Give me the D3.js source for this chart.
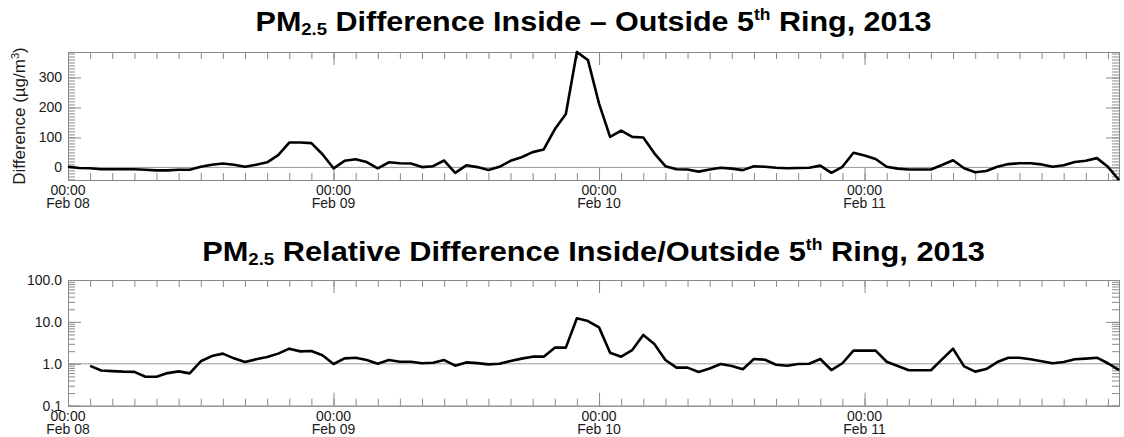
<!DOCTYPE html>
<html>
<head>
<meta charset="utf-8">
<script src="https://cdn.jsdelivr.net/npm/d3@7"></script>
<style>
  body { margin: 0; background: #fff; }
  text { font-family: "Liberation Sans", Arial, Helvetica, sans-serif; }
</style>
</head>
<body>
<svg id="chart" width="1124" height="437"></svg>
<script>
"use strict";

// hourly PM2.5 difference inside - outside (ug/m3), starting Feb 08 00:00
var diffStart = "2013-02-08T00:00:00Z";
var diff = [2, -2, -3, -6, -6, -6, -6, -8, -10, -10, -8, -8,
            2, 9, 13, 9, 2, 9, 17, 41, 83, 83, 81, 44,
            -3, 22, 27, 18, -3, 17, 14, 13, 1, 4, 23, -18,
            7, 1, -9, 2, 22, 34, 51, 60, 127, 178, 385, 358,
            213, 102, 123, 102, 100, 47, 4, -6, -7, -14, -7, -1,
            -4, -9, 4, 2, -1, -3, -2, -1, 6, -18, 2, 49,
            40, 28, 2, -4, -7, -7, -7, 8, 24, -3, -16, -12,
            2, 11, 14, 14, 10, 2, 7, 18, 22, 31, 2, -42];

// hourly relative difference inside / outside, starting Feb 08 02:00
var ratioStart = "2013-02-08T02:00:00Z";
var ratio = [0.89, 0.69, 0.67, 0.65, 0.64, 0.49, 0.49, 0.60, 0.66, 0.59,
             1.15, 1.53, 1.75, 1.35, 1.10, 1.28, 1.45, 1.75, 2.3, 1.98, 2.02, 1.6,
             0.99, 1.35, 1.40, 1.23, 1.0, 1.23, 1.12, 1.12, 1.03, 1.06, 1.23, 0.9,
             1.08, 1.04, 0.97, 1.0, 1.17, 1.33, 1.48, 1.48, 2.43, 2.43, 12.2, 10.5,
             7.4, 1.84, 1.48, 2.13, 4.87, 2.97, 1.23, 0.81, 0.81, 0.64, 0.77, 0.99,
             0.89, 0.74, 1.30, 1.25, 0.95, 0.9, 0.99, 1.0, 1.30, 0.71, 1.03, 2.06,
             2.06, 2.06, 1.12, 0.89, 0.70, 0.70, 0.70, 1.28, 2.29, 0.87, 0.65, 0.75,
             1.10, 1.40, 1.40, 1.28, 1.15, 1.03, 1.10, 1.28, 1.33, 1.40, 1.03, 0.71];

var diffTicks = [0, 100, 200, 300];
var ratioTicks = [0.1, 1, 10, 100];
var timeDomain = ["2013-02-08T00:00:00Z", "2013-02-11T23:00:00Z"];

var svg = d3.select("#chart");
var frameColor = "#8a8a8a";
var left = 68, right = 1119;

var x = d3.scaleUtc()
    .domain(timeDomain.map(function (d) { return new Date(d); }))
    .range([left, right]);

function series(start, vals) {
    var t0 = new Date(start);
    return vals.map(function (v, i) { return {t: d3.utcHour.offset(t0, i), v: v}; });
}

function title(y, parts, target) {
    var t = svg.append("text")
        .attr("text-anchor", "middle")
        .style("font-size", "28px")
        .style("font-weight", "bold")
        .attr("fill", "#000");
    t.append("tspan").text("PM");
    t.append("tspan").attr("dy", 4).style("font-size", "17px").text("2.5");
    t.append("tspan").attr("dy", -4).text(parts[0]);
    t.append("tspan").attr("dy", -11).style("font-size", "16px").text("th");
    t.append("tspan").attr("dy", 11).text(parts[1]);
    var w = t.node().getComputedTextLength();
    t.attr("transform", "translate(" + ((left + right) / 2) + "," + y + ") scale(" + (target / w) + ",1)");
}

function panel(top, bottom, y, majors, minors, fmt, refValue, data) {
    var g = svg.append("g");
    y.range([bottom, top]);

    // reference line
    g.append("line")
        .attr("x1", left).attr("x2", right)
        .attr("y1", y(refValue)).attr("y2", y(refValue))
        .style("stroke", "#9a9a9a").style("stroke-width", 1);

    var xMinor = x.ticks(d3.utcHour.every(2));
    var xMajor = x.ticks(d3.utcDay.every(1));

    var axes = [
        [d3.axisBottom(x).tickValues(xMinor).tickSize(-7), "translate(0," + bottom + ")"],
        [d3.axisTop(x).tickValues(xMinor).tickSize(-7), "translate(0," + top + ")"],
        [d3.axisBottom(x).tickValues(xMajor).tickSize(-13), "translate(0," + bottom + ")"],
        [d3.axisTop(x).tickValues(xMajor).tickSize(-13), "translate(0," + top + ")"],
        [d3.axisLeft(y).tickValues(minors).tickSize(-7), "translate(" + left + ",0)"],
        [d3.axisRight(y).tickValues(minors).tickSize(-7), "translate(" + right + ",0)"],
        [d3.axisRight(y).tickValues(majors).tickSize(-13), "translate(" + right + ",0)"]
    ];
    axes.forEach(function (a) {
        var ax = g.append("g").attr("transform", a[1])
            .call(a[0].tickSizeOuter(0).tickFormat(""));
        ax.selectAll("path, line").style("stroke", frameColor).style("stroke-width", 1);
        ax.selectAll("text").remove();
    });

    var yl = g.append("g").attr("transform", "translate(" + left + ",0)")
        .call(d3.axisLeft(y).tickValues(majors).tickSize(-13).tickSizeOuter(0).tickPadding(6).tickFormat(fmt));
    yl.selectAll("path, line").style("stroke", frameColor).style("stroke-width", 1);
    yl.selectAll("text").style("font-size", "14px").attr("fill", "#1a1a1a");

    // two-line time labels
    var lab = g.append("g");
    xMajor.forEach(function (d) {
        var t = lab.append("text").attr("text-anchor", "middle")
            .style("font-size", "14px").attr("fill", "#1a1a1a");
        t.append("tspan").attr("x", x(d)).attr("y", bottom + 15).text(d3.utcFormat("%H:%M")(d));
        t.append("tspan").attr("x", x(d)).attr("y", bottom + 28).text(d3.utcFormat("%b %d")(d));
    });

    g.append("path")
        .datum(data)
        .attr("d", d3.line().x(function (d) { return x(d.t); }).y(function (d) { return y(d.v); }))
        .style("fill", "none")
        .style("stroke", "#000")
        .style("stroke-width", 2.6)
        .style("stroke-linejoin", "round");
}

// top panel
var yDiff = d3.scaleLinear().domain(d3.extent(diff));
var diffMinor = yDiff.copy().range([0, 1]).ticks(40);
panel(52, 180, yDiff, diffTicks, diffMinor, d3.format("d"), 0, series(diffStart, diff));

// bottom panel
var yRatio = d3.scaleLog().domain(d3.extent(ratioTicks));
var ratioMinor = yRatio.ticks();
panel(280, 405.7, yRatio, ratioTicks, ratioMinor, d3.format(".1f"), 1, series(ratioStart, ratio));

title(31, [" Difference Inside \u2013 Outside 5", " Ring, 2013"], 676);
title(261, [" Relative Difference Inside/Outside 5", " Ring, 2013"], 783);

// y label of the top panel
var ylab = svg.append("text")
    .attr("text-anchor", "middle")
    .attr("transform", "translate(25,116) rotate(-90)")
    .style("font-size", "17px")
    .attr("fill", "#1a1a1a");
ylab.append("tspan").text("Difference (\u00b5g/m");
ylab.append("tspan").attr("dy", -6).style("font-size", "11px").text("3");
ylab.append("tspan").attr("dy", 6).text(")");
</script>
</body>
</html>
